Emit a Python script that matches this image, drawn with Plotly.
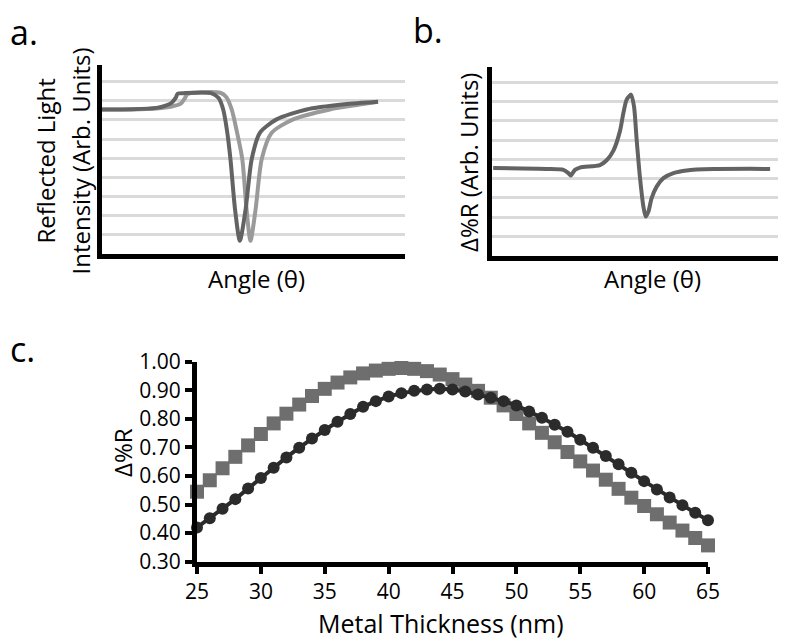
import plotly.graph_objects as go

# The page body adds an 8px margin; the figure is sized so the page is 786x641.
OFF = 8
FW, FH = 786 - OFF, 641 - OFF

# ---------------- data ----------------
# Panel a: reflected light intensity vs angle (arbitrary units)
angle_dark = [0, 10, 18, 21, 23, 24.3, 25, 27, 36, 38.5, 40, 41.2, 42.4, 43.9, 45.5,
              47.4, 49.4, 52.1, 57.6, 67.5, 80, 91.1]
refl_dark = [7.55, 7.56, 7.63, 7.75, 7.9, 8.15, 8.37, 8.4, 8.4, 8.15, 7.55, 6.5, 4.95, 2.34, 0.69,
             2.34, 4.95, 6.33, 7.03, 7.55, 7.82, 7.95]
angle_light = [0, 10, 18, 23, 26, 27.2, 28.2, 30, 39, 41, 42.8, 44.5, 46.3, 47.7, 49,
               50.7, 52.7, 56, 63.1, 75.2, 85, 91.1]
refl_light = [7.55, 7.55, 7.6, 7.7, 7.85, 8.1, 8.35, 8.42, 8.42, 8.2, 7.55, 6.4, 4.95, 2.34, 0.69,
              2.34, 4.95, 6.33, 7.03, 7.55, 7.8, 7.95]

# Panel b: change in %R vs angle (arbitrary units)
angle_b = [0.4, 18.6, 24.3, 26.0, 26.8, 28.2, 29.9, 36.7, 39.0, 41.3, 43.5, 44.7, 45.8, 47.3,
           48.3, 49.2, 50.3, 51.5, 52.3, 53.2, 54.3, 56.0, 58.3, 61.7, 66.2, 75.3, 94.6]
delta_b = [4.54, 4.50, 4.45, 4.28, 4.16, 4.45, 4.57, 4.70, 4.95, 5.45, 6.45, 7.41, 8.10, 8.36,
           7.75, 6.02, 4.10, 2.54, 2.02, 2.28, 2.98, 3.58, 4.02, 4.28, 4.42, 4.49, 4.50]

# Panel c: delta %R vs metal thickness
thickness = list(range(25, 66))
delta_sq = [0.545, 0.585, 0.627, 0.667, 0.707, 0.747, 0.784, 0.818, 0.850, 0.880,
            0.905, 0.927, 0.945, 0.959, 0.969, 0.975, 0.978, 0.975, 0.967, 0.955,
            0.939, 0.920, 0.898, 0.874, 0.847, 0.817, 0.784, 0.751, 0.718, 0.684,
            0.651, 0.619, 0.587, 0.555, 0.524, 0.495, 0.466, 0.437, 0.409, 0.383, 0.357]
delta_ci = [0.420, 0.452, 0.485, 0.519, 0.556, 0.593, 0.629, 0.665, 0.699, 0.731,
            0.761, 0.790, 0.817, 0.842, 0.862, 0.878, 0.890, 0.898, 0.903, 0.905,
            0.903, 0.896, 0.885, 0.874, 0.862, 0.847, 0.826, 0.804, 0.779, 0.755,
            0.727, 0.699, 0.670, 0.641, 0.611, 0.582, 0.553, 0.525, 0.498, 0.471, 0.445]
x_ticks_c = [25, 30, 35, 40, 45, 50, 55, 60, 65]
y_ticks_c = [0.30, 0.40, 0.50, 0.60, 0.70, 0.80, 0.90, 1.00]
y_ticktext_c = ["0.30", "0.40", "0.50", "0.60", "0.70", "0.80", "0.90", "1.00"]
grid_vals = [1, 2, 3, 4, 5, 6, 7, 8, 9]

# ---------------- helpers (page pixel -> paper fraction) ----------------
def px(x):
    return (x - OFF) / FW

def py(y):
    return 1 - (y - OFF) / FH

FONT = "Open Sans"

fig = go.Figure()

# Panel a
fig.add_trace(go.Scatter(x=angle_light, y=refl_light, mode="lines",
                         line=dict(color="#9a9a9a", width=4, shape="spline", smoothing=0.7),
                         xaxis="x", yaxis="y", showlegend=False, hoverinfo="skip"))
fig.add_trace(go.Scatter(x=angle_dark, y=refl_dark, mode="lines",
                         line=dict(color="#636363", width=4, shape="spline", smoothing=0.7),
                         xaxis="x", yaxis="y", showlegend=False, hoverinfo="skip"))
# Panel b
fig.add_trace(go.Scatter(x=angle_b, y=delta_b, mode="lines",
                         line=dict(color="#636363", width=4, shape="spline", smoothing=0.7),
                         xaxis="x2", yaxis="y2", showlegend=False, hoverinfo="skip"))
# Panel c
fig.add_trace(go.Scatter(x=thickness, y=delta_sq, mode="markers",
                         marker=dict(symbol="square", size=14, color="#6e6e6e"),
                         xaxis="x3", yaxis="y3", showlegend=False, cliponaxis=False))
fig.add_trace(go.Scatter(x=thickness, y=delta_ci, mode="lines+markers",
                         line=dict(color="#2b2b2b", width=4),
                         marker=dict(symbol="circle", size=12, color="#2b2b2b"),
                         xaxis="x3", yaxis="y3", showlegend=False, cliponaxis=False))

axis_common = dict(showline=True, linecolor="black", linewidth=5, zeroline=False,
                   showticklabels=False, ticks="", fixedrange=True, automargin=False)

TICKFONT = dict(size=21, family=FONT, color="black")

fig.update_layout(
    width=FW, height=FH,
    autosize=False,
    margin=dict(l=0, r=0, t=0, b=0, pad=0, autoexpand=False),
    paper_bgcolor="white", plot_bgcolor="white",
    font=dict(family=FONT, color="black"),
    xaxis=dict(domain=[px(102), px(405)], range=[0, 100], anchor="y", showgrid=False, **axis_common),
    yaxis=dict(domain=[py(254), py(65)], range=[0, 9.87], anchor="x", showgrid=True,
               tickvals=grid_vals, gridcolor="#dadada", gridwidth=2.5, **axis_common),
    xaxis2=dict(domain=[px(492), 1.0], range=[0, 100], anchor="y2", showgrid=False, **axis_common),
    yaxis2=dict(domain=[py(255.5), py(66.7)], range=[0, 9.81], anchor="x2", showgrid=True,
                tickvals=grid_vals, gridcolor="#dadada", gridwidth=2.5, **axis_common),
    xaxis3=dict(domain=[px(197), px(708)], range=[25, 65], anchor="y3", showgrid=False,
                showline=True, linecolor="black", linewidth=5, zeroline=False, automargin=False,
                tickvals=x_ticks_c, ticks="outside", ticklen=7, tickwidth=4, tickcolor="black",
                tickfont=TICKFONT, fixedrange=True),
    yaxis3=dict(domain=[py(561.7), py(361.7)], range=[0.3, 1.0], anchor="x3", showgrid=False,
                showline=True, linecolor="black", linewidth=5, zeroline=False, automargin=False,
                tickvals=y_ticks_c, ticktext=y_ticktext_c, ticks="outside", ticklen=7, tickwidth=4,
                tickcolor="black", tickfont=TICKFONT, fixedrange=True),
)

def label(text, x, y, size, angle=0):
    fig.add_annotation(text=text, x=px(x), y=py(y), xref="paper", yref="paper",
                       showarrow=False, xanchor="center", yanchor="middle",
                       textangle=angle, font=dict(size=size, family=FONT, color="black"))

def letter(text, x, y):
    fig.add_annotation(text=text, x=px(x), y=py(y), xref="paper", yref="paper", showarrow=False,
                       xanchor="left", yanchor="middle", font=dict(size=34, family=FONT, color="black"))

# Panel letters
letter("a.", 8, 32)
letter("b.", 411, 30)
letter("c.", 8, 349)

# Axis titles
label("Reflected Light", 45, 161.5, 24, -90)
label("Intensity (Arb. Units)", 80, 161.5, 24, -90)
label("Angle (\u03b8)", 256, 278, 24)
label("\u0394%R (Arb. Units)", 468, 162, 24, -90)
label("Angle (\u03b8)", 652, 278, 24)
label("\u0394%R", 122, 453, 24, -90)
label("Metal Thickness (nm)", 441, 623, 25)

fig.write_html("out.html")
